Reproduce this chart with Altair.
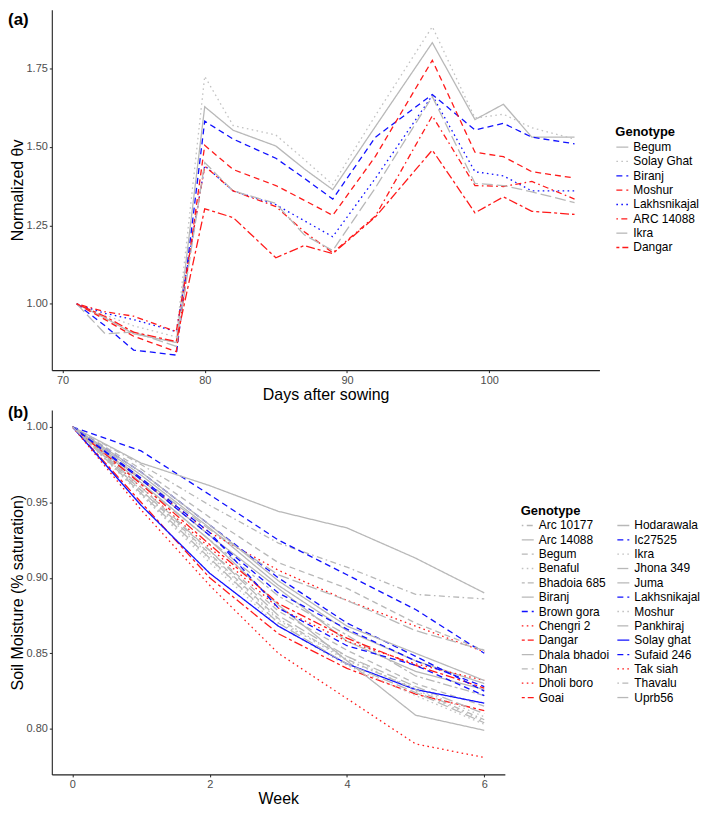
import altair as alt
import pandas as pd

# ---------------- Panel (a) ----------------
days = [71, 73, 75, 78, 80, 82, 85, 87, 89, 92, 96, 99, 101, 103, 106]
names_a = ["Begum", "Solay Ghat", "Biranj", "Moshur", "Lakhsnikajal", "ARC 14088", "Ikra", "Dangar"]
a_begum = [1.00, 0.955, 0.905, 0.877, 1.628, 1.553, 1.503, 1.43, 1.364, 1.565, 1.832, 1.587, 1.636, 1.531, 1.531]
a_solay = [1.00, 0.965, 0.930, 0.895, 1.725, 1.568, 1.538, 1.46, 1.380, 1.600, 1.883, 1.592, 1.604, 1.561, 1.525]
a_biranj = [1.00, 0.930, 0.853, 0.837, 1.582, 1.525, 1.464, 1.40, 1.334, 1.531, 1.667, 1.554, 1.575, 1.531, 1.510]
a_moshur = [1.00, 0.950, 0.897, 0.848, 1.505, 1.428, 1.377, 1.33, 1.282, 1.470, 1.776, 1.483, 1.469, 1.421, 1.401]
a_lakhs = [1.00, 0.970, 0.950, 0.912, 1.440, 1.360, 1.316, 1.265, 1.214, 1.400, 1.664, 1.421, 1.408, 1.360, 1.360]
a_arc = [1.00, 0.975, 0.961, 0.912, 1.439, 1.360, 1.310, 1.23, 1.163, 1.280, 1.599, 1.377, 1.374, 1.390, 1.334]
a_ikra = [1.00, 0.905, 0.910, 0.865, 1.450, 1.360, 1.320, 1.22, 1.170, 1.370, 1.660, 1.384, 1.377, 1.357, 1.323]
a_dangar = [1.00, 0.960, 0.910, 0.880, 1.303, 1.275, 1.147, 1.186, 1.160, 1.277, 1.490, 1.290, 1.341, 1.295, 1.285]
series_a = [a_begum, a_solay, a_biranj, a_moshur, a_lakhs, a_arc, a_ikra, a_dangar]

GRAY = "#b8b8b8"
LGRAY = "#c2c2c2"
BLUE = "#1010ff"
RED = "#ff1a1a"
SOLID = [1, 0]
DASHED = [6, 4]
DOTTED = [1.6, 3.4]
DOTDASH = [1.6, 3.4, 6, 3.4]
LONGDASH = [11, 4]
TWODASH = [3, 3, 9, 3]

colors_a = [GRAY, LGRAY, BLUE, RED, BLUE, RED, GRAY, RED]
dashes_a = [SOLID, DOTTED, DASHED, DASHED, DOTTED, DOTDASH, LONGDASH, TWODASH]

a_xticks = [70, 80, 90, 100]
a_yticks = [1.00, 1.25, 1.50, 1.75]

# ---------------- Panel (b) ----------------
weeks = [0, 1, 2, 3, 4, 5, 6]
col1 = ["Arc 10177", "Arc 14088", "Begum", "Benaful", "Bhadoia 685", "Biranj", "Brown gora",
        "Chengri 2", "Dangar", "Dhala bhadoi", "Dhan", "Dholi boro", "Goai"]
col2 = ["Hodarawala", "Ic27525", "Ikra", "Jhona 349", "Juma", "Lakhsnikajal", "Moshur",
        "Pankhiraj", "Solay ghat", "Sufaid 246", "Tak siah", "Thavalu", "Uprb56"]

b_arc10177 = [1.00, 0.975, 0.948, 0.923, 0.907, 0.889, 0.886]
b_arc14088 = [1.00, 0.968, 0.933, 0.895, 0.865, 0.845, 0.830]
b_begum = [1.00, 0.972, 0.940, 0.910, 0.893, 0.870, 0.852]
b_benaful = [1.00, 0.955, 0.912, 0.870, 0.848, 0.825, 0.805]
b_bhadoia = [1.00, 0.962, 0.925, 0.888, 0.862, 0.835, 0.822]
b_biranj = [1.00, 0.965, 0.928, 0.893, 0.858, 0.838, 0.826]
b_browngora = [1.00, 0.984, 0.955, 0.925, 0.902, 0.879, 0.850]
b_chengri = [1.00, 0.965, 0.930, 0.905, 0.885, 0.868, 0.851]
b_dangar = [1.00, 0.950, 0.900, 0.863, 0.840, 0.823, 0.812]
b_dhala = [1.00, 0.963, 0.925, 0.882, 0.845, 0.809, 0.799]
b_dhan = [1.00, 0.958, 0.918, 0.878, 0.852, 0.830, 0.815]
b_dholi = [1.00, 0.960, 0.920, 0.880, 0.858, 0.843, 0.832]
b_goai = [1.00, 0.962, 0.922, 0.883, 0.860, 0.842, 0.827]
b_hodarawala = [1.00, 0.976, 0.961, 0.944, 0.933, 0.913, 0.890]
b_ic27525 = [1.00, 0.970, 0.935, 0.900, 0.870, 0.848, 0.825]
b_ikra = [1.00, 0.955, 0.910, 0.868, 0.842, 0.822, 0.803]
b_jhona = [1.00, 0.966, 0.932, 0.902, 0.885, 0.865, 0.852]
b_juma = [1.00, 0.970, 0.935, 0.898, 0.868, 0.850, 0.832]
b_lakhs = [1.00, 0.965, 0.928, 0.890, 0.866, 0.845, 0.828]
b_moshur = [1.00, 0.957, 0.915, 0.872, 0.845, 0.827, 0.808]
b_pankhiraj = [1.00, 0.960, 0.918, 0.875, 0.848, 0.828, 0.810]
b_solay = [1.00, 0.948, 0.903, 0.868, 0.843, 0.826, 0.817]
b_sufaid = [1.00, 0.966, 0.930, 0.880, 0.855, 0.842, 0.822]
b_taksiah = [1.00, 0.945, 0.895, 0.850, 0.820, 0.790, 0.781]
b_thavalu = [1.00, 0.958, 0.916, 0.873, 0.846, 0.826, 0.806]
b_uprb56 = [1.00, 0.956, 0.913, 0.870, 0.843, 0.824, 0.804]

series_b1 = [b_arc10177, b_arc14088, b_begum, b_benaful, b_bhadoia, b_biranj, b_browngora,
             b_chengri, b_dangar, b_dhala, b_dhan, b_dholi, b_goai]
series_b2 = [b_hodarawala, b_ic27525, b_ikra, b_jhona, b_juma, b_lakhs, b_moshur,
             b_pankhiraj, b_solay, b_sufaid, b_taksiah, b_thavalu, b_uprb56]

colors_b1 = [GRAY, GRAY, GRAY, LGRAY, GRAY, GRAY, BLUE, RED, RED, GRAY, GRAY, RED, RED]
dashes_b1 = [DOTDASH, SOLID, DASHED, DOTTED, TWODASH, SOLID, DASHED, DOTTED, TWODASH, SOLID, DASHED, DOTTED, TWODASH]
colors_b2 = [GRAY, BLUE, LGRAY, GRAY, GRAY, BLUE, LGRAY, GRAY, BLUE, BLUE, RED, GRAY, GRAY]
dashes_b2 = [SOLID, DASHED, DOTTED, LONGDASH, SOLID, DASHED, DOTTED, LONGDASH, SOLID, DASHED, DOTTED, DOTDASH, LONGDASH]

b_xticks = [0, 2, 4, 6]
b_yticks = [0.80, 0.85, 0.90, 0.95, 1.00]

# ---------------- build tables ----------------
rows_a = []
for name, vals in zip(names_a, series_a):
    for d, v in zip(days, vals):
        rows_a.append({"genotype_a": name, "day": d, "value": v})
df_a = pd.DataFrame(rows_a)

dom_b = col1 + col2
col_b = colors_b1 + colors_b2
dash_b = dashes_b1 + dashes_b2
rows_b = []
for name, vals in zip(dom_b, series_b1 + series_b2):
    for w, v in zip(weeks, vals):
        rows_b.append({"genotype_b": name, "week": w, "value": v})
df_b = pd.DataFrame(rows_b)

FONT = "Liberation Sans"
W_A, H_A = 550, 362
W_B, H_B = 455, 366

def make_legend(x, y, cols=1):
    return alt.Legend(
        title="Genotype", orient="none", legendX=x, legendY=y, columns=cols,
        columnPadding=5, symbolType="stroke", symbolSize=144, symbolStrokeWidth=1.3,
        labelFontSize=12, titleFontSize=13, titleFontWeight="bold", rowPadding=1.4,
        titlePadding=1, labelOffset=4, padding=0, titleColor="black", labelColor="black",
        labelFont=FONT, titleFont=FONT,
    )

leg_a = make_legend(W_A + 16, 117)
lines_a = alt.Chart(df_a).mark_line(strokeWidth=1.3).encode(
    x=alt.X("day:Q", scale=alt.Scale(domain=[69.25, 107.75], nice=False, zero=False),
            axis=alt.Axis(values=a_xticks, format="d", title="Days after sowing")),
    y=alt.Y("value:Q", scale=alt.Scale(domain=[0.789, 1.937], nice=False, zero=False),
            axis=alt.Axis(values=a_yticks, format=".2f", title="Normalized θv")),
    color=alt.Color("genotype_a:N", scale=alt.Scale(domain=names_a, range=colors_a), legend=leg_a),
    strokeDash=alt.StrokeDash("genotype_a:N", scale=alt.Scale(domain=names_a, range=dashes_a), legend=leg_a),
)
lab_a = alt.Chart(pd.DataFrame({"lab": ["(a)"]})).mark_text(
    align="left", baseline="middle", fontSize=17, fontWeight="bold", font=FONT, color="black"
).encode(text="lab:N", x=alt.value(-44), y=alt.value(10))
panel_a = alt.layer(lines_a, lab_a).properties(width=W_A, height=H_A)

leg_b = make_legend(W_B + 16, 95, cols=2)
lines_b = alt.Chart(df_b).mark_line(strokeWidth=1.3).encode(
    x=alt.X("week:Q", scale=alt.Scale(domain=[-0.3, 6.3], nice=False, zero=False),
            axis=alt.Axis(values=b_xticks, format="d", title="Week")),
    y=alt.Y("value:Q", scale=alt.Scale(domain=[0.7698, 1.0111], nice=False, zero=False),
            axis=alt.Axis(values=b_yticks, format=".2f", title="Soil Moisture (% saturation)")),
    color=alt.Color("genotype_b:N", scale=alt.Scale(domain=dom_b, range=col_b), legend=leg_b),
    strokeDash=alt.StrokeDash("genotype_b:N", scale=alt.Scale(domain=dom_b, range=dash_b), legend=leg_b),
)
lab_b = alt.Chart(pd.DataFrame({"lab": ["(b)"]})).mark_text(
    align="left", baseline="middle", fontSize=16, fontWeight="bold", font=FONT, color="black"
).encode(text="lab:N", x=alt.value(-44), y=alt.value(3))
panel_b = alt.layer(lines_b, lab_b).properties(width=W_B, height=H_B)

chart = alt.vconcat(panel_a, panel_b, spacing=2).resolve_scale(
    color="independent", strokeDash="independent"
).properties(padding=0).configure(font=FONT).configure_view(stroke=None).configure_axis(
    grid=False, domainColor="#222", domainWidth=1.1, tickColor="#222", tickSize=2.5,
    labelColor="#4d4d4d", labelFontSize=11, labelPadding=2, labelFont=FONT,
    titleColor="black", titleFontSize=16, titleFontWeight="normal", titlePadding=1, titleFont=FONT,
)

chart.save("out.html", embed_options={"renderer": "svg", "actions": False})
